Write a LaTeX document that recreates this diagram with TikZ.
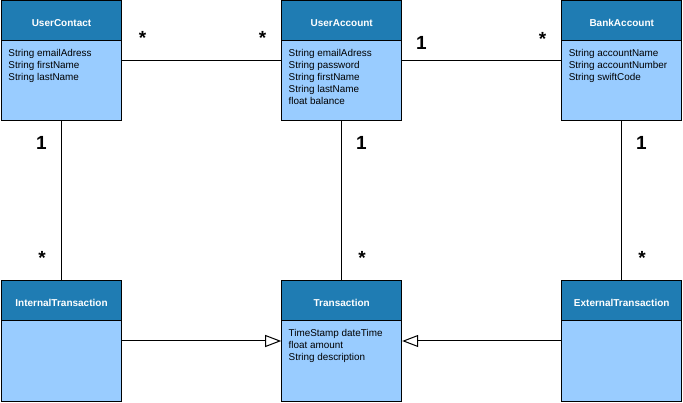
\documentclass[tikz,border=0pt]{standalone}
\usepackage{fontspec}
\setmainfont{Liberation Sans}
\usepackage{tikz}
\usetikzlibrary{arrows.meta}
\definecolor{headblue}{RGB}{31,124,179}
\definecolor{bodyblue}{RGB}{153,204,255}
\tikzset{
  classbox/.style={draw, fill=bodyblue, minimum width=120pt, minimum height=120pt, inner sep=0pt},
  classhead/.style={draw, fill=headblue, text=white, font=\fontsize{10}{12}\selectfont\bfseries,
    minimum width=120pt, minimum height=40pt, inner sep=0pt, text height=11pt, text depth=0pt, anchor=north},
  attrs/.style={anchor=north west, align=left, inner sep=0pt, font=\fontsize{9.9}{12}\selectfont},
  mult/.style={inner sep=0pt, font=\fontsize{19}{20}\selectfont\bfseries},
  inherits/.style={-{Triangle[open, length=16pt, width=12pt]}}
}

\begin{document}
\begin{tikzpicture}[x=1pt, y=-1pt, line width=1pt]
\useasboundingbox (0,0) rectangle (683,403);

% classes
\foreach \n/\x/\y/\t in {uc/61.5/61/UserContact, ua/341.7/61/UserAccount, ba/621.75/61/BankAccount,
  it/61.5/341/InternalTransaction, tr/341.7/341/Transaction, et/621.75/341/ExternalTransaction}
  {\node [classbox] (\n) at (\x,\y) {};
   \node [classhead] (\n h) at (\n.north) {\t};}

% attributes
\node [attrs] (uca) at ([shift={(7,7.5)}]uch.south west) {String emailAdress\\String firstName\\String lastName};
\node [attrs] (uaa) at ([shift={(7,7.5)}]uah.south west) {String emailAdress\\String password\\String firstName\\String lastName\\float balance};
\node [attrs] (baa) at ([shift={(7,7.5)}]bah.south west) {String accountName\\String accountNumber\\String swiftCode};
\node [attrs] (tra) at ([shift={(7,7.5)}]trh.south west) {TimeStamp dateTime\\float amount\\String description};

% associations
\draw (uc) -- (ua);
\draw (ua) -- (ba);
\draw (uc) -- (it);
\draw (ua) -- (tr);
\draw (ba) -- (et);

% generalisation
\draw [inherits] (it) -- (tr);
\draw [inherits] (et) -- (tr);

% multiplicities
\node [mult] (m1) at (142.5,37.5) {*};
\node [mult] (m2) at (262.5,37.5) {*};
\node [mult] (m3) at (421.5,43) {1};
\node [mult] (m4) at (542.5,38.5) {*};
\foreach \x [count=\i] in {41.5,361.5,641.5}
  {\node [mult] (o\i) at (\x,143) {1};
   \node [mult] (s\i) at (\x+0.5,257.5) {*};}

\end{tikzpicture}
\end{document}
